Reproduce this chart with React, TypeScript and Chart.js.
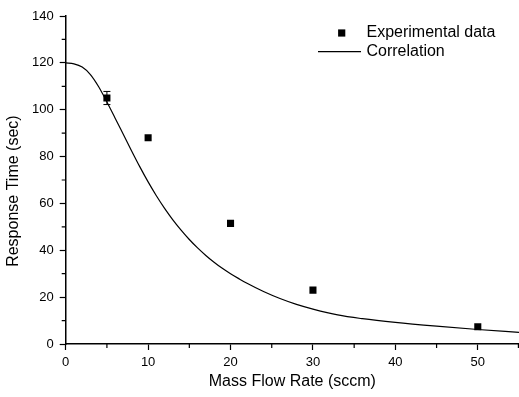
import React, { useEffect, useRef } from "react";
import { Chart, registerables } from "chart.js";

Chart.register(...registerables);

const flowRates = [5, 10, 20, 30, 50];
const responseTimes = [105, 88, 51.5, 23, 7.4];
const responseErrors = [2.8, 0, 0, 0, 0];

const fitFlow = [0, 1, 2, 3, 4, 5, 6, 7, 8, 9, 10, 11, 12, 13, 14, 15, 16, 17, 18, 19, 20, 21, 22, 24, 26, 28, 30, 33, 36, 40, 45, 50, 55];
const fitResponse = [120, 119.6, 118.2, 115.0, 109.8, 103.3, 96.4, 89.4, 82.4, 75.6, 69.2, 63.3, 57.9, 53.0, 48.6, 44.6, 41.0, 37.8, 34.9, 32.3, 30.0, 27.9, 25.9, 22.4, 19.4, 16.9, 14.9, 12.4, 10.8, 9.2, 7.6, 6.2, 5.0];

const xTickValues = [0, 10, 20, 30, 40, 50];
const xMinorTicks = [5, 15, 25, 35, 45, 55];
const yTickValues = [0, 20, 40, 60, 80, 100, 120, 140];
const yMinorTicks = [10, 30, 50, 70, 90, 110, 130];

const FONT = "'Liberation Sans', Arial, sans-serif";

const decorPlugin = {
  id: "decor",
  afterDatasetsDraw(chart: any) {
    const ctx = chart.ctx;
    const xs = chart.scales.x;
    const ys = chart.scales.y;
    const area = chart.chartArea;
    ctx.save();
    // error bars
    ctx.strokeStyle = "#000";
    ctx.lineWidth = 1;
    flowRates.forEach((fx, i) => {
      const e = responseErrors[i];
      if (!e) return;
      const px = xs.getPixelForValue(fx);
      const top = ys.getPixelForValue(responseTimes[i] + e);
      const bot = ys.getPixelForValue(responseTimes[i] - e);
      ctx.beginPath();
      ctx.moveTo(px, top);
      ctx.lineTo(px, bot);
      ctx.moveTo(px - 3.5, top);
      ctx.lineTo(px + 3.5, top);
      ctx.moveTo(px - 3.5, bot);
      ctx.lineTo(px + 3.5, bot);
      ctx.stroke();
    });
    // minor ticks
    ctx.lineWidth = 1.2;
    ctx.beginPath();
    xMinorTicks.forEach((v) => {
      const px = Math.min(xs.getPixelForValue(v), chart.width - 0.6);
      ctx.moveTo(px, area.bottom);
      ctx.lineTo(px, area.bottom + 4);
    });
    yMinorTicks.forEach((v) => {
      const py = ys.getPixelForValue(v);
      ctx.moveTo(area.left, py);
      ctx.lineTo(area.left - 4, py);
    });
    ctx.stroke();
    // legend
    const ds = chart.data.datasets;
    ctx.font = `16px ${FONT}`;
    ctx.fillStyle = "#000";
    ctx.textBaseline = "middle";
    ctx.textAlign = "left";
    ctx.fillRect(341.7 - 3.6, 33 - 3.6, 7.2, 7.2);
    ctx.fillText(ds[0].label, 366.5, 33);
    ctx.beginPath();
    ctx.lineWidth = 1.2;
    ctx.moveTo(318, 51.7);
    ctx.lineTo(361, 51.7);
    ctx.stroke();
    ctx.fillText(ds[1].label, 366.5, 51.7);
    ctx.restore();
  },
};

export default function App() {
  const ref = useRef<HTMLCanvasElement>(null);
  useEffect(() => {
    if (!ref.current) return;
    const chart = new Chart(ref.current, {
      type: "scatter",
      data: {
        datasets: [
          {
            label: "Experimental data",
            data: flowRates.map((x, i) => ({ x, y: responseTimes[i] })),
            pointStyle: "rect",
            pointRadius: 5,
            pointBorderWidth: 0,
            backgroundColor: "#000",
            borderColor: "#000",
            showLine: false,
          },
          {
            label: "Correlation",
            type: "line",
            data: fitFlow.map((x, i) => ({ x, y: fitResponse[i] })),
            borderColor: "#000",
            borderWidth: 1.2,
            pointRadius: 0,
            cubicInterpolationMode: "monotone",
            fill: false,
          } as any,
        ],
      },
      options: {
        animation: false,
        responsive: false,
        maintainAspectRatio: false,
        layout: { autoPadding: false, padding: { top: 16, right: 0, left: 0, bottom: 0 } },
        plugins: { legend: { display: false }, tooltip: { enabled: false } },
        scales: {
          x: {
            type: "linear",
            min: 0,
            max: 55,
            afterBuildTicks: (s: any) => {
              s.ticks = xTickValues.map((v) => ({ value: v }));
            },
            afterFit: (s: any) => {
              s.height = 53;
              s.paddingRight = 0;
              s.paddingLeft = 0;
            },
            grid: { drawOnChartArea: false, tickLength: 6, tickColor: "#000", tickWidth: 1.2 },
            border: { color: "#000", width: 1.5 },
            ticks: { color: "#000", font: { family: FONT, size: 13 }, padding: 5, maxRotation: 0 },
            title: {
              display: true,
              text: "Mass Flow Rate (sccm)",
              color: "#000",
              font: { family: FONT, size: 16 },
              padding: { top: 0, bottom: 6 },
            },
          },
          y: {
            type: "linear",
            min: 0,
            max: 140,
            afterBuildTicks: (s: any) => {
              s.ticks = yTickValues.map((v) => ({ value: v }));
            },
            afterFit: (s: any) => {
              s.width = 65.7;
            },
            grid: { drawOnChartArea: false, tickLength: 6, tickColor: "#000", tickWidth: 1.2 },
            border: { color: "#000", width: 1.5 },
            ticks: { color: "#000", font: { family: FONT, size: 13 }, padding: 6 },
            title: {
              display: true,
              text: "Response Time (sec)     ",
              color: "#000",
              font: { family: FONT, size: 16 },
              padding: { top: 4, bottom: 0 },
            },
          },
        },
      },
      plugins: [decorPlugin],
    });
    return () => chart.destroy();
  }, []);
  return (
    <div style={{ position: "absolute", left: 0, top: 0, width: 519, height: 397, background: "#fff" }}>
      <canvas ref={ref} width={519} height={397} style={{ width: 519, height: 397 }} />
    </div>
  );
}
